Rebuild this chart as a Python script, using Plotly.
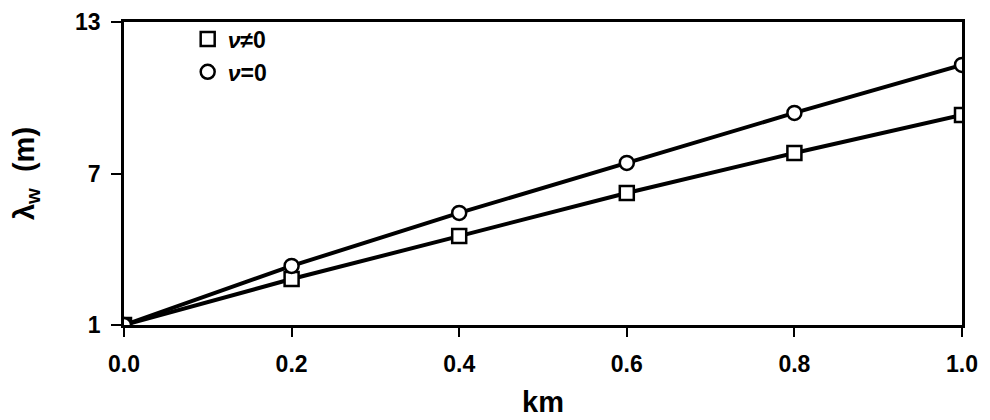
import plotly.graph_objects as go

km = [0.0, 0.2, 0.4, 0.6, 0.8, 1.0]
lam_nu_nonzero = [1.0, 2.82, 4.52, 6.23, 7.81, 9.32]
lam_nu_zero = [1.0, 3.34, 5.44, 7.42, 9.40, 11.30]
x_ticks = [0.0, 0.2, 0.4, 0.6, 0.8, 1.0]
x_ticklabels = ["0.0", "0.2", "0.4", "0.6", "0.8", "1.0"]
y_ticks = [1, 7, 13]
series_names = ["<i>ν</i>≠0", "<i>ν</i>=0"]

FONT = "Liberation Sans"
fig = go.Figure()

marker_style = dict(color="white", size=14, line=dict(color="black", width=2.5))

for vals in (lam_nu_nonzero, lam_nu_zero):
    fig.add_trace(go.Scatter(x=km, y=vals, mode="lines", line=dict(color="black", width=4),
                             showlegend=False, hoverinfo="skip"))

fig.add_trace(go.Scatter(x=km, y=lam_nu_nonzero, mode="markers", name=series_names[0],
                         marker=dict(symbol="square", **marker_style)))
fig.add_trace(go.Scatter(x=km, y=lam_nu_zero, mode="markers", name=series_names[1],
                         marker=dict(symbol="circle", **marker_style)))

fig.update_layout(
    width=990, height=420,
    margin=dict(l=116, r=36, t=14, b=103, autoexpand=False),
    plot_bgcolor="white", paper_bgcolor="white",
    font=dict(family=FONT, color="black", size=22),
    showlegend=True,
    legend=dict(x=0.076, y=1.015, xanchor="left", yanchor="top",
                bgcolor="rgba(0,0,0,0)", font=dict(size=23, family=FONT, weight="bold"),
                itemwidth=30, tracegroupgap=0),
    xaxis=dict(range=[0, 1.0], tickvals=x_ticks, ticktext=x_ticklabels, automargin=False,
               showline=True, linecolor="black", linewidth=2.5, mirror=True,
               ticks="outside", ticklen=9, tickwidth=2, tickcolor="black",
               showgrid=False, zeroline=False,
               tickfont=dict(size=23, family=FONT, weight="bold"),
               ticklabelstandoff=8,
               title=dict(text="km", font=dict(size=29, family=FONT, weight="bold"), standoff=16)),
    yaxis=dict(range=[1, 13], tickvals=y_ticks, automargin=False,
               showline=True, linecolor="black", linewidth=2.5, mirror=True,
               ticks="outside", ticklen=10, tickwidth=2, tickcolor="black",
               showgrid=False, zeroline=False,
               tickfont=dict(size=23, family=FONT, weight="bold"),
               ticklabelstandoff=6,
               title=dict(text="λ<sub>w</sub>  (m)", font=dict(size=29, family=FONT, weight="bold"), standoff=36)),
)

fig.write_html("out.html")
